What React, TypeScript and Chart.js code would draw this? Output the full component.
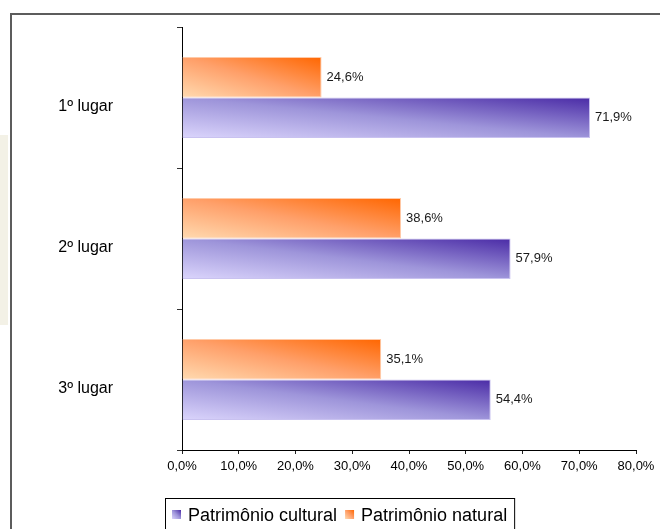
import { useEffect, useRef } from "react";
import { Chart, registerables } from "chart.js";

Chart.register(...registerables);

// Data
const categories = ["1º lugar", "2º lugar", "3º lugar"];
const naturalValues = [24.6, 38.6, 35.1];
const culturalValues = [71.9, 57.9, 54.4];
const seriesNames = ["Patrimônio natural", "Patrimônio cultural"];
const xTickValues = [0, 10, 20, 30, 40, 50, 60, 70, 80];

const FONT = '"Liberation Sans", Arial, Helvetica, sans-serif';

type Stop = [number, string];
const orangeStops: Stop[] = [
  [0, "#ffdab0"],
  [0.5, "#ffa06a"],
  [1, "#ff6600"],
];
const purpleStops: Stop[] = [
  [0, "#dbd5fc"],
  [0.5, "#9e95da"],
  [1, "#4a2ba6"],
];

const pct = (v: number) => v.toFixed(1).replace(".", ",") + "%";

// Diagonal gradient: lightest at the bottom-left corner, darkest at the top-right,
// with the iso-colour line running along the opposite diagonal.
function diagGradient(
  ctx: CanvasRenderingContext2D,
  left: number,
  top: number,
  right: number,
  bottom: number,
  stops: Stop[]
) {
  const w = Math.max(right - left, 1);
  const h = Math.max(bottom - top, 1);
  const f = (2 * w * h) / (w * w + h * h);
  const g = ctx.createLinearGradient(left, bottom, left + h * f, bottom - w * f);
  stops.forEach(([o, c]) => g.addColorStop(o, c));
  return g;
}

function barFill(stops: Stop[], fallback: string) {
  return (c: any) => {
    const el = c.element;
    if (!el || el.x == null || el.base == null || el.height == null) return fallback;
    const left = Math.min(el.base, el.x);
    const right = Math.max(el.base, el.x);
    const top = el.y - el.height / 2;
    const bottom = el.y + el.height / 2;
    return diagGradient(c.chart.ctx, left, top, right, bottom, stops);
  };
}

const framePlugin = {
  id: "frame",
  beforeDraw(chart: any) {
    const { ctx, width, height } = chart;
    ctx.save();
    ctx.fillStyle = "#ffffff";
    ctx.fillRect(0, 0, width, height);
    ctx.fillStyle = "#f3f1e6";
    ctx.fillRect(0, 135, 8, 190);
    ctx.fillStyle = "#5c5c5c";
    ctx.fillRect(10, 13, width, 2);
    ctx.fillRect(10, 13, 2, height);
    ctx.restore();
  },
};

const valueLabelPlugin = {
  id: "valueLabels",
  afterDatasetsDraw(chart: any) {
    const { ctx } = chart;
    ctx.save();
    ctx.font = `13px ${FONT}`;
    ctx.fillStyle = "#1a1a1a";
    ctx.textAlign = "left";
    ctx.textBaseline = "middle";
    chart.data.datasets.forEach((ds: any, di: number) => {
      const meta = chart.getDatasetMeta(di);
      meta.data.forEach((el: any, i: number) => {
        ctx.fillText(pct(ds.data[i]), el.x + 5, el.y);
      });
    });
    ctx.restore();
  },
};

const boxLegendPlugin = {
  id: "boxLegend",
  afterDraw(chart: any) {
    const { ctx, chartArea } = chart;
    const items = [
      { name: seriesNames[1], stops: purpleStops },
      { name: seriesNames[0], stops: orangeStops },
    ];
    ctx.save();
    ctx.font = `18px ${FONT}`;
    ctx.textAlign = "left";
    ctx.textBaseline = "alphabetic";
    const boxLeft = chartArea.left - 17;
    const boxTop = chartArea.bottom + 48;
    const baseline = boxTop + 23;
    const sw = 9;
    let x = boxLeft + 7;
    items.forEach((it) => {
      const sy = baseline - 11;
      ctx.fillStyle = diagGradient(ctx, x, sy, x + sw, sy + sw, it.stops);
      ctx.fillRect(x, sy, sw, sw);
      x += sw + 7;
      ctx.fillStyle = "#000000";
      ctx.fillText(it.name, x, baseline);
      x += ctx.measureText(it.name).width + 8;
    });
    ctx.strokeStyle = "#000000";
    ctx.lineWidth = 1;
    ctx.strokeRect(boxLeft + 0.5, boxTop + 0.5, x - boxLeft - 1, 80);
    ctx.restore();
  },
};

export default function App() {
  const canvasRef = useRef<HTMLCanvasElement | null>(null);

  useEffect(() => {
    if (!canvasRef.current) return;
    const chart = new Chart(canvasRef.current, {
      type: "bar",
      data: {
        labels: categories,
        datasets: [
          {
            label: seriesNames[0],
            data: naturalValues,
            backgroundColor: barFill(orangeStops, "#ff9f66"),
            borderColor: "#ffcaa8",
            borderWidth: 1,
            categoryPercentage: 0.575,
            barPercentage: 1,
          },
          {
            label: seriesNames[1],
            data: culturalValues,
            backgroundColor: barFill(purpleStops, "#9e95da"),
            borderColor: "#c9c2f0",
            borderWidth: 1,
            categoryPercentage: 0.575,
            barPercentage: 1,
          },
        ],
      },
      options: {
        indexAxis: "y",
        responsive: false,
        animation: false,
        devicePixelRatio: 1,
        layout: { padding: { top: 27, right: 24, bottom: 39, left: 0 } },
        plugins: {
          legend: { display: false },
          tooltip: { enabled: false },
          title: { display: false },
        },
        scales: {
          x: {
            type: "linear",
            min: xTickValues[0],
            max: xTickValues[xTickValues.length - 1],
            afterBuildTicks: (s: any) => {
              s.ticks = xTickValues.map((v) => ({ value: v }));
            },
            afterFit: (s: any) => {
              s.height = 40;
            },
            grid: {
              drawOnChartArea: false,
              drawTicks: true,
              tickLength: 4,
              color: "#222222",
            },
            border: { display: true, color: "#000000", width: 1 },
            ticks: {
              callback: (v: any) => pct(Number(v)),
              color: "#000000",
              padding: 5,
              maxRotation: 0,
              autoSkip: false,
              font: { family: FONT, size: 13 },
            },
          },
          y: {
            type: "category",
            afterFit: (s: any) => {
              s.width = 182;
              s.paddingTop = 0;
              s.paddingBottom = 0;
            },
            grid: {
              drawOnChartArea: false,
              drawTicks: true,
              tickLength: 5,
              offset: true,
              color: "#333333",
            },
            border: { display: true, color: "#000000", width: 1 },
            ticks: {
              color: "#000000",
              padding: 64,
              labelOffset: 9,
              font: { family: FONT, size: 16 },
            },
          },
        },
      },
      plugins: [framePlugin, valueLabelPlugin, boxLegendPlugin],
    } as any);
    // Second pass so each bar's fill gradient is built from its laid-out geometry.
    chart.update();
    return () => chart.destroy();
  }, []);

  return (
    <div style={{ position: "absolute", left: 0, top: 0, width: 660, height: 529, overflow: "hidden", background: "#fff" }}>
      <canvas ref={canvasRef} width={660} height={529} style={{ display: "block" }} />
    </div>
  );
}
